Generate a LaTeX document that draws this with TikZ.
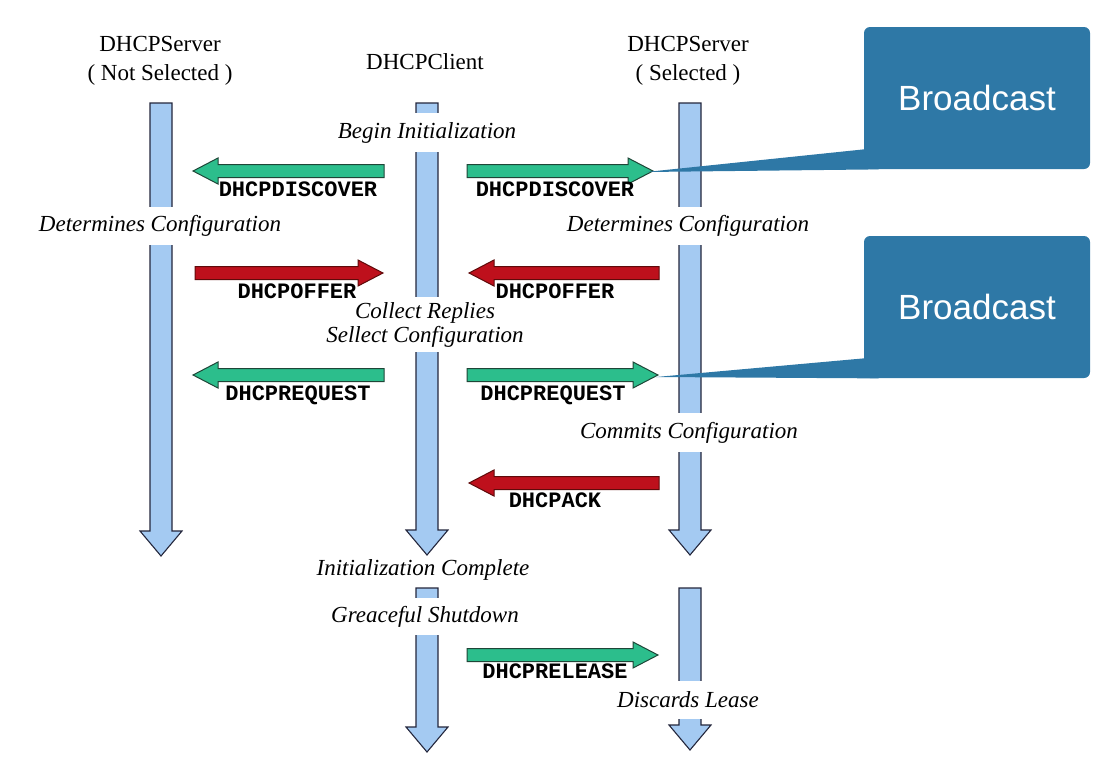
\documentclass[tikz,border=0pt]{standalone}
\usepackage{fontspec}
\setmainfont{Liberation Serif}
\setsansfont{Liberation Sans}
\setmonofont{Liberation Mono}
\usetikzlibrary{calc}
\definecolor{lifeblue}{RGB}{164,202,242}
\definecolor{lifeedge}{RGB}{35,38,60}
\definecolor{msggreen}{RGB}{44,190,140}
\definecolor{greenedge}{RGB}{30,70,55}
\definecolor{msgred}{RGB}{190,16,28}
\definecolor{rededge}{RGB}{95,10,10}
\definecolor{noteblue}{RGB}{46,120,166}
\tikzset{every picture/.style={line width=0.75pt}}

\begin{document}
\begin{tikzpicture}[x=1pt,y=-1pt,
    lifeline/.style={draw=lifeedge, fill=lifeblue, line width=1.1pt, to path={
        let \p1=(\tikztostart), \p2=(\tikztotarget) in
        ({\x1-11pt},\y1) -- ({\x1-11pt},{\y2+25pt}) -- ({\x1-21pt},{\y2+25pt}) -- (\x1,\y2)
        -- ({\x1+21pt},{\y2+25pt}) -- ({\x1+11pt},{\y2+25pt}) -- ({\x1+11pt},\y1) -- cycle}},
    message/.style={line width=1pt, to path={
        let \p1=(\tikztostart), \p2=(\tikztotarget), \n1={\x2-25*sign(\x2-\x1)} in
        (\x1,{\y1-6.5pt}) -- (\n1,{\y1-6.5pt}) -- (\n1,{\y1-13pt}) -- (\x2,\y1)
        -- (\n1,{\y1+13pt}) -- (\n1,{\y1+6.5pt}) -- (\x1,{\y1+6.5pt}) -- cycle}},
    request/.style={message, fill=msggreen, draw=greenedge},
    reply/.style={message, fill=msgred, draw=rededge},
    title/.style={font=\fontsize{23}{29}\selectfont, align=center},
    event/.style={font=\fontsize{23}{24}\selectfont\itshape, fill=white, inner xsep=2pt, align=center},
    msglabel/.style={font=\fontsize{22}{24}\ttfamily\bfseries, inner sep=0pt},
    broadcast/.style={fill=noteblue, rounded corners=6pt, text=white, minimum width=226pt,
        minimum height=142pt, font=\fontsize{35}{40}\sffamily}]
    \useasboundingbox (0,0) rectangle (1106,764);

    % titles
    \node[title] (srvA) at (160,61) {DHCPServer\\( Not Selected )};
    \node[title] (client) at (425,62) {DHCPClient};
    \node[title] (srvB) at (688,61) {DHCPServer\\( Selected )};

    % life lines
    \coordinate (a0) at (161,103);  \coordinate (a1) at (161,556);
    \coordinate (c0) at (427,103);  \coordinate (c1) at (427,555);
    \coordinate (c2) at (427,588);  \coordinate (c3) at (427,752);
    \coordinate (b0) at (690,103);  \coordinate (b1) at (690,555);
    \coordinate (b2) at (690,588);  \coordinate (b3) at (690,750);
    \draw[lifeline] (a0) to (a1);
    \draw[lifeline] (c0) to (c1);
    \draw[lifeline] (b0) to (b1);
    \draw[lifeline] (c2) to (c3);
    \draw[lifeline] (b2) to (b3);

    % states on the life lines
    \node[event, minimum height=39pt] (begin) at (427,132.5) {Begin Initialization};
    \node[event, minimum height=38pt] (detA) at (160,226) {Determines Configuration};
    \node[event, minimum height=38pt] (detB) at (688,226) {Determines Configuration};
    \node[event, inner ysep=5pt] (collect) at (425,324.5) {Collect Replies\\Sellect Configuration};
    \node[event, minimum height=39pt] (commit) at (689,432.5) {Commits Configuration};
    \node[event] (done) at (423,570) {Initialization Complete};
    \node[event, minimum height=37pt] (shut) at (425,616.5) {Greaceful Shutdown};
    \node[event, minimum height=38pt] (discard) at (688,700) {Discards Lease};

    % messages
    \coordinate (m1s) at (384,171); \coordinate (m1e) at (193,171);
    \coordinate (m2s) at (467,171); \coordinate (m2e) at (653,171);
    \coordinate (m3s) at (195,273); \coordinate (m3e) at (383,273);
    \coordinate (m4s) at (659,273); \coordinate (m4e) at (469,273);
    \coordinate (m5s) at (384,375); \coordinate (m5e) at (193,375);
    \coordinate (m6s) at (467,375); \coordinate (m6e) at (658,375);
    \coordinate (m7s) at (659,483); \coordinate (m7e) at (469,483);
    \coordinate (m8s) at (467,655); \coordinate (m8e) at (658,655);
    \draw[request] (m1s) to (m1e);
    \draw[request] (m2s) to (m2e);
    \draw[reply] (m3s) to (m3e);
    \draw[reply] (m4s) to (m4e);
    \draw[request] (m5s) to (m5e);
    \draw[request] (m6s) to (m6e);
    \draw[reply] (m7s) to (m7e);
    \draw[request] (m8s) to (m8e);

    \node[msglabel] (l1) at (298,189) {DHCPDISCOVER};
    \node[msglabel] (l2) at (555,189) {DHCPDISCOVER};
    \node[msglabel] (l3) at (297,291) {DHCPOFFER};
    \node[msglabel] (l4) at (555,291) {DHCPOFFER};
    \node[msglabel] (l5) at (298,395) {DHCPREQUEST};
    \node[msglabel] (l6) at (553,395) {DHCPREQUEST};
    \node[msglabel] (l7) at (555,500) {DHCPACK};
    \node[msglabel] (l8) at (555,671) {DHCPRELEASE};

    % callouts
    \node[broadcast] (bc1) at (977,98) {Broadcast};
    \node[broadcast] (bc2) at (977,307) {Broadcast};
    \coordinate (tip1) at (646,172);
    \coordinate (tip2) at (656,377);
    \fill[noteblue] ([yshift=20pt]bc1.south west) -- (tip1) -- ([xshift=15pt]bc1.south west)
        -- ([xshift=15pt,yshift=20pt]bc1.south west) -- cycle;
    \fill[noteblue] ([yshift=20pt]bc2.south west) -- (tip2) -- ([xshift=15pt]bc2.south west)
        -- ([xshift=15pt,yshift=20pt]bc2.south west) -- cycle;
\end{tikzpicture}
\end{document}
